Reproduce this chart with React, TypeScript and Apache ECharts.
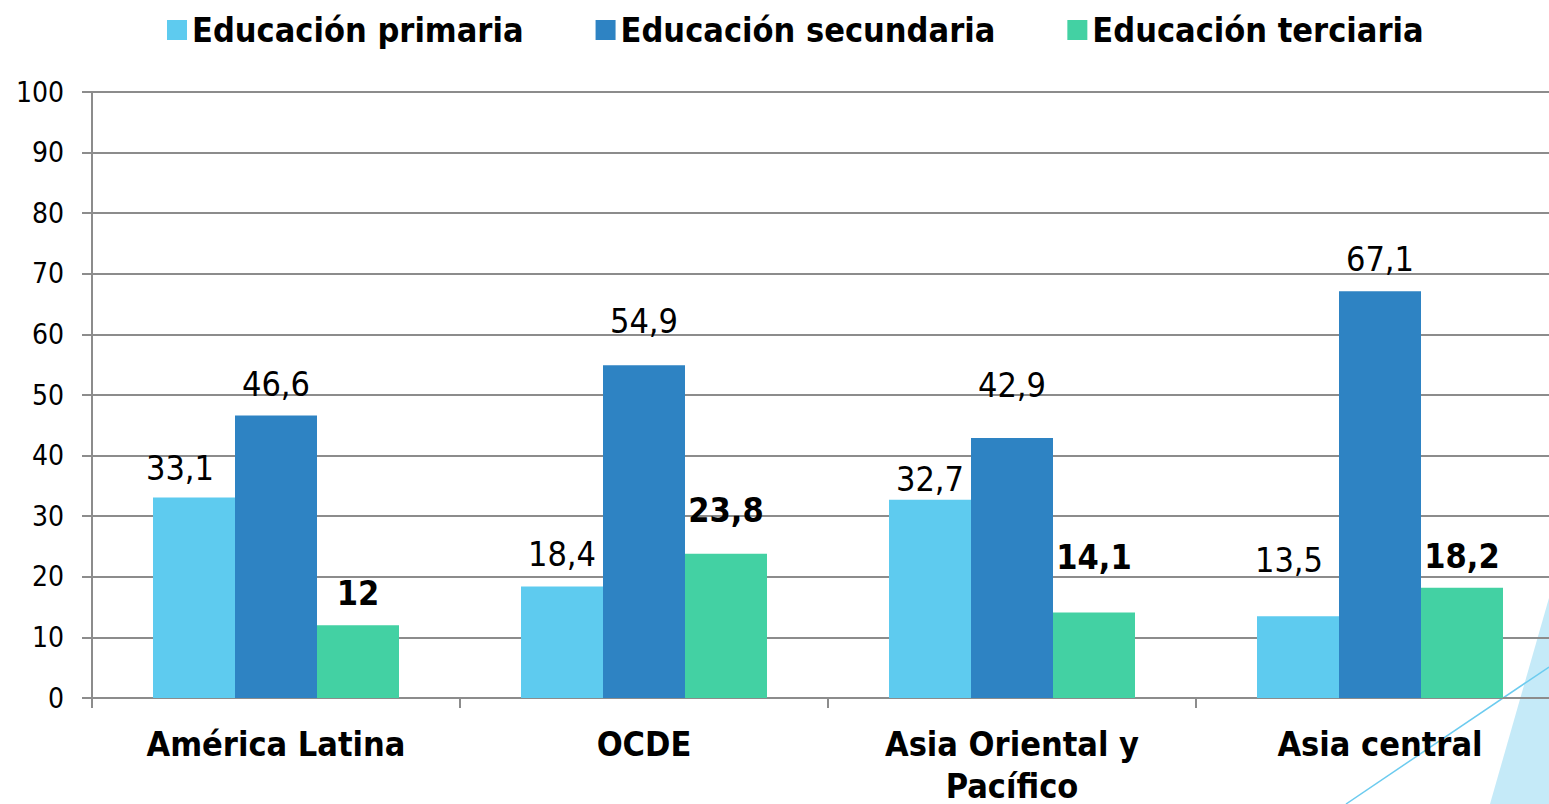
import React, { useEffect, useRef } from "react";
import * as echarts from "echarts";

const categories = ["América Latina", "OCDE", "Asia Oriental y\nPacífico", "Asia central"];
const seriesNames = ["Educación primaria", "Educación secundaria", "Educación terciaria"];
const primaria = [33.1, 18.4, 32.7, 13.5];
const secundaria = [46.6, 54.9, 42.9, 67.1];
const terciaria = [12, 23.8, 14.1, 18.2];
const yTicks = [0, 10, 20, 30, 40, 50, 60, 70, 80, 90, 100];

const colors = ["#5ecbef", "#2e83c3", "#43d1a3"];
// label nudges [dx, dy] per series per category (as placed in the original)
const nudges: number[][][] = [
  [[-14, 3], [0, 0], [0, 11], [-9, -24]],
  [[0, 0], [0, -12], [0, -21], [0, 0]],
  [[0, 0], [0, -12], [0, -24], [0, 0]],
];

const FONT = "'DejaVu Sans Condensed', 'DejaVu Sans', sans-serif";

export default function App() {
  const ref = useRef<HTMLDivElement>(null);
  useEffect(() => {
    document.body.style.margin = "0";
    document.documentElement.style.overflow = "hidden";
    document.body.style.overflow = "hidden";
    if (!ref.current) return;
    const chart = echarts.init(ref.current, undefined, { renderer: "svg" });
    const all = [primaria, secundaria, terciaria];
    const fmt = (v: number) => String(v).replace(".", ",");
    chart.setOption({
      animation: false,
      textStyle: { fontFamily: FONT },
      legend: {
        data: seriesNames,
        top: 8,
        left: 162,
        itemWidth: 20,
        itemHeight: 20,
        itemGap: 72,
        icon: "rect",
        textStyle: { fontFamily: FONT, fontSize: 34, fontWeight: "bold", color: "#000", padding: [0, 0, 0, 0] },
      },
      grid: { left: 92, top: 92, width: 1472, height: 606, containLabel: false, outerBoundsMode: "none" },
      xAxis: {
        type: "category",
        data: categories,
        axisLine: { lineStyle: { color: "#8c8c8c", width: 2 } },
        axisTick: { show: true, length: 10, lineStyle: { color: "#8c8c8c", width: 2 } },
        axisLabel: {
          fontFamily: FONT,
          fontSize: 34,
          fontWeight: "bold",
          color: "#000",
          margin: 25,
          lineHeight: 42,
          interval: 0,
        },
      },
      yAxis: {
        type: "value",
        min: 0,
        max: 100,
        interval: 10,
        axisLine: { show: true, lineStyle: { color: "#8c8c8c", width: 2 } },
        axisTick: { show: true, length: 10, lineStyle: { color: "#8c8c8c", width: 2 } },
        splitLine: { lineStyle: { color: "#8c8c8c", width: 2 } },
        axisLabel: {
          fontFamily: FONT,
          fontSize: 28,
          color: "#000",
          margin: 28,
          formatter: (v: number) => (yTicks.includes(v) ? String(v) : ""),
        },
      },
      series: all.map((vals, si) => ({
        name: seriesNames[si],
        type: "bar",
        barWidth: 82,
        barGap: "0%",
        itemStyle: { color: colors[si] },
        data: vals.map((v, ci) => ({
          value: v,
          label: { offset: nudges[si][ci] },
        })),
        label: {
          show: true,
          position: "top",
          distance: 15,
          fontFamily: FONT,
          fontSize: 34,
          fontWeight: si === 2 ? "bold" : "normal",
          color: "#000",
          formatter: (p: any) => fmt(p.value),
        },
      })),
      graphic: [
        {
          type: "polygon",
          silent: true,
          shape: { points: [[1490, 804], [1549, 598], [1549, 804]] },
          style: { fill: "#c5eaf8" },
        },
        {
          type: "line",
          silent: true,
          shape: { x1: 1346, y1: 804, x2: 1549, y2: 667 },
          style: { stroke: "#6ccbef", lineWidth: 1.5 },
        },
      ],
    });
    return () => chart.dispose();
  }, []);
  return (
    <div
      ref={ref}
      style={{ position: "absolute", left: 0, top: 0, width: 1549, height: 804, background: "#fff", overflow: "hidden" }}
    />
  );
}
